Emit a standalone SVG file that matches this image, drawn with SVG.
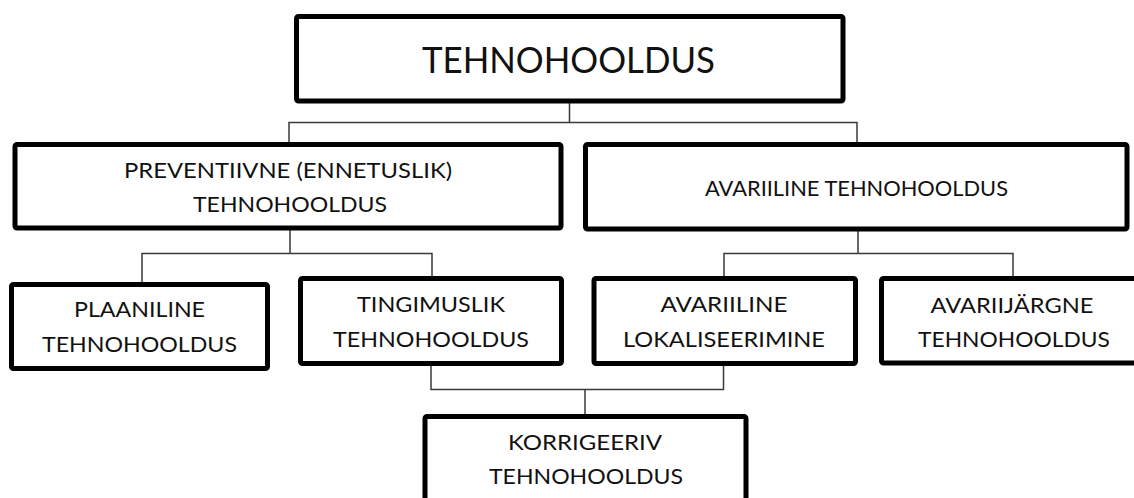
<svg xmlns="http://www.w3.org/2000/svg" width="1134" height="498" viewBox="0 0 1134 498">
<style>
.box{fill:#fff;stroke:#000;stroke-width:5;}
.t{font-family:Lato,"Open Sans","Liberation Sans",sans-serif;font-size:22px;fill:#111;text-anchor:middle;}
.big{font-size:36px;}
.c{fill:none;stroke:#3a3a3a;stroke-width:1.5;}
</style>
<rect width="1134" height="498" fill="#fff"/>
<g id="connectors">
<path class="c" d="M569.5 101V122.5M289 144.5V122.5H857V144.5"/>
<path class="c" d="M290 228V253.5M142 284.5V253.5H432V278.5"/>
<path class="c" d="M858 229V253.5M724 278.5V253.5H1013V278.5"/>
<path class="c" d="M431 363.5V389.5H723.5V363.5M585 389.5V416.5"/>
</g>
<g id="n-tehnohooldus">
<rect class="box" x="296.5" y="16.5" width="546.5" height="84.5" rx="2"/>
<text class="t big" x="568.5" y="73" textLength="293" lengthAdjust="spacingAndGlyphs">TEHNOHOOLDUS</text>
</g>
<g id="n-preventiivne">
<rect class="box" x="15" y="144.5" width="546" height="83.5" rx="2"/>
<text class="t" x="288" y="178" textLength="328" lengthAdjust="spacingAndGlyphs">PREVENTIIVNE (ENNETUSLIK)</text>
<text class="t" x="290" y="212" textLength="194" lengthAdjust="spacingAndGlyphs">TEHNOHOOLDUS</text>
</g>
<g id="n-avariiline">
<rect class="box" x="585.5" y="144.5" width="541.5" height="84.5" rx="2"/>
<text class="t" x="856.5" y="196" textLength="303" lengthAdjust="spacingAndGlyphs">AVARIILINE TEHNOHOOLDUS</text>
</g>
<g id="n-plaaniline">
<rect class="box" x="11.5" y="284.5" width="256" height="84" rx="2"/>
<text class="t" x="139.5" y="317" textLength="131" lengthAdjust="spacingAndGlyphs">PLAANILINE</text>
<text class="t" x="139.5" y="352" textLength="195" lengthAdjust="spacingAndGlyphs">TEHNOHOOLDUS</text>
</g>
<g id="n-tingimuslik">
<rect class="box" x="300.5" y="278.5" width="261" height="85" rx="2"/>
<text class="t" x="431" y="312" textLength="148" lengthAdjust="spacingAndGlyphs">TINGIMUSLIK</text>
<text class="t" x="431" y="347" textLength="196" lengthAdjust="spacingAndGlyphs">TEHNOHOOLDUS</text>
</g>
<g id="n-lokaliseerimine">
<rect class="box" x="594" y="278.5" width="261.5" height="85" rx="2"/>
<text class="t" x="724" y="312" textLength="127" lengthAdjust="spacingAndGlyphs">AVARIILINE</text>
<text class="t" x="724" y="347" textLength="202" lengthAdjust="spacingAndGlyphs">LOKALISEERIMINE</text>
</g>
<g id="n-avariijargne">
<rect class="box" x="881.5" y="278.5" width="262" height="84.5" rx="2"/>
<text class="t" x="1012" y="312.5" textLength="163" lengthAdjust="spacingAndGlyphs">AVARIIJÄRGNE</text>
<text class="t" x="1014" y="346.5" textLength="192" lengthAdjust="spacingAndGlyphs">TEHNOHOOLDUS</text>
</g>
<g id="n-korrigeeriv">
<rect class="box" x="425" y="416.5" width="321" height="100" rx="2"/>
<text class="t" x="585" y="450" textLength="154" lengthAdjust="spacingAndGlyphs">KORRIGEERIV</text>
<text class="t" x="586" y="484" textLength="194" lengthAdjust="spacingAndGlyphs">TEHNOHOOLDUS</text>
</g>
</svg>
